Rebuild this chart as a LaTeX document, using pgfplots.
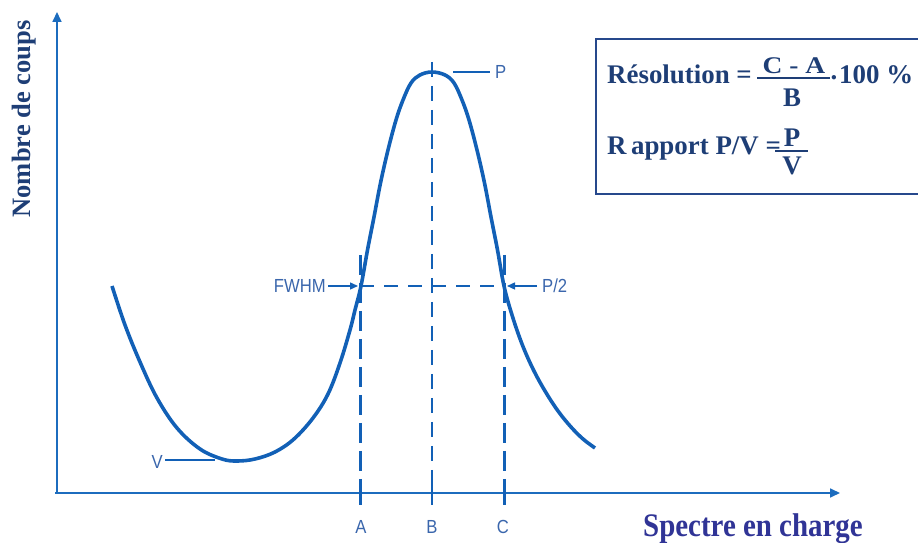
\documentclass[border=0pt]{standalone}
\usepackage{pgfplots}
\pgfplotsset{compat=1.18}
\usetikzlibrary{arrows.meta}
\usepackage{fontspec}
\setmainfont{Liberation Serif}
\newfontfamily\sans{Liberation Sans}
\definecolor{curvec}{RGB}{18,96,182}
\definecolor{axisc}{RGB}{28,108,190}
\definecolor{labc}{RGB}{58,102,172}
\definecolor{navy}{RGB}{30,62,118}
\definecolor{boxc}{RGB}{38,72,140}
\definecolor{indig}{RGB}{48,52,150}
\newcommand\lab[1]{{\sans\fontsize{19}{22}\selectfont\scalebox{0.88}[1]{#1}}}
\newcommand\fml[2][27]{{\fontsize{#1}{#1}\selectfont\bfseries #2}}
\begin{document}
\begin{tikzpicture}
\useasboundingbox (0,0) rectangle (918bp,543bp);
\begin{axis}[width=918bp, height=543bp, scale only axis,
  xmin=0, xmax=918, ymin=0, ymax=543, hide axis, clip=false]
% axes
\addplot[axisc, line width=1.7bp, -{Triangle[length=10bp,width=9bp]}] coordinates {(57,49) (57,531)};
\addplot[axisc, line width=1.7bp, -{Triangle[length=10bp,width=9bp]}] coordinates {(55,50) (840,50)};
% ticks on x axis
\addplot[curvec, line width=3bp] coordinates {(360,38) (360,60)};
\addplot[curvec, line width=1.5bp] coordinates {(432,38) (432,60)};
\addplot[curvec, line width=3bp] coordinates {(504,38) (504,60)};
% dashed guides
\addplot[curvec, line width=3bp, dash pattern=on 20bp off 8bp] coordinates {(360,288) (360,60)};
\addplot[curvec, line width=1.4bp, dash pattern=on 15bp off 9bp] coordinates {(432,481) (432,60)};
\addplot[curvec, line width=3bp, dash pattern=on 20bp off 8bp] coordinates {(504,288) (504,60)};
\addplot[curvec, line width=1.4bp, dash pattern=on 14bp off 10bp] coordinates {(360,257) (504,257)};
% spectrum curve
\addplot[curvec, line width=3.6bp, smooth, tension=0.6] coordinates {
(112,257) (125,218) (140,181) (157,145) (177,115) (200,94) (222,84) (237,82)
(255,84) (275,91) (294,104) (313,125) (328,149) (340,180) (350,213)
(355,233) (361,257) (367.5,293) (374,326) (380.5,360) (388,393) (396,423)
(403,443) (411,460) (420,468) (432,471) (445,468) (454,460) (462,443)
(469,423) (477,393) (484.5,360) (491,326) (497.5,293) (504,257) (512,228)
(522,199) (533,174) (545,152) (558,132) (571,116) (583,104) (595,95)};
% annotation arrows and lines
\addplot[curvec, line width=1.4bp, -{Triangle[length=8bp,width=7bp]}] coordinates {(328,257) (358,257)};
\addplot[curvec, line width=1.4bp, -{Triangle[length=8bp,width=7bp]}] coordinates {(537,257) (507,257)};
\addplot[curvec, line width=2.6bp] coordinates {(453,471) (490,471)};
\addplot[curvec, line width=1.6bp] coordinates {(165,83) (215,83)};
% formula box
\addplot[boxc, line width=2bp] coordinates {(920,504) (596,504) (596,349) (920,349)};
\addplot[navy, line width=1.6bp] coordinates {(757,465) (830,465)};
\addplot[navy, line width=1.6bp] coordinates {(775,392) (808,392)};
\end{axis}
% text (in the same picture coordinates, 1 unit = 1bp)
\begin{scope}[x=1bp,y=1bp]
\node[labc, anchor=east, inner sep=0] at (326,257) {\lab{FWHM}};
\node[labc, anchor=west, inner sep=0] at (542,257) {\lab{P/2}};
\node[labc, anchor=west, inner sep=0] at (495,471) {\lab{P}};
\node[labc, anchor=east, inner sep=0] at (163,81) {\lab{V}};
\node[labc, anchor=base, inner sep=0] at (361,10) {\lab{A}};
\node[labc, anchor=base, inner sep=0] at (432,10) {\lab{B}};
\node[labc, anchor=base, inner sep=0] at (503,10) {\lab{C}};
\node[navy, rotate=90, anchor=base, inner sep=0] at (30,424) {\fontsize{26.6}{30}\selectfont\bfseries Nombre de coups};
\node[indig, anchor=base west, inner sep=0] at (643,7) {\fontsize{33}{36}\selectfont\bfseries\scalebox{0.88}[1]{Spectre en charge}};
\node[navy, anchor=base west, inner sep=0] at (607,459) {\fml{Résolution =}};
\node[navy, anchor=base, inner sep=0] at (794,469) {{\fontsize{24}{24}\selectfont\bfseries\scalebox{1.15}[1]{C - A}}};
\node[navy, anchor=base, inner sep=0] at (792,436) {\fml{B}};
\node[navy, anchor=base, inner sep=0] at (834,463) {\fml{.}};
\node[navy, anchor=base west, inner sep=0] at (839,459) {\fml{100 \%}};
\node[navy, anchor=base west, inner sep=0] at (607,388) {\fml{R\,apport P/V =}};
\node[navy, anchor=base, inner sep=0] at (792,396) {\fml{P}};
\node[navy, anchor=base, inner sep=0] at (792,369) {\fml{V}};
\end{scope}
\end{tikzpicture}
\end{document}
